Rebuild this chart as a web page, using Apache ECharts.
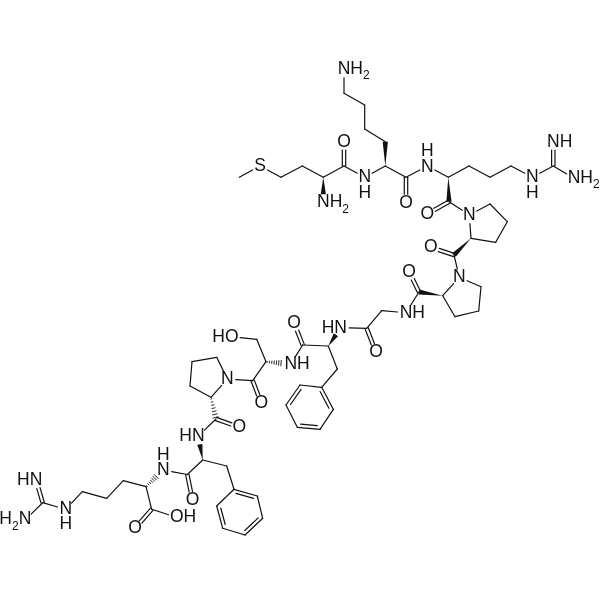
<!DOCTYPE html>
<html><head><meta charset="utf-8">
<style>html,body{margin:0;padding:0;background:#fff}#c{width:600px;height:600px}</style>
<script src="https://cdn.jsdelivr.net/npm/echarts@6/dist/echarts.min.js"></script>
</head><body><div id="c"></div>
<script>
// atoms: [x, y, hasLabel]
const atoms = [
[239.3,177.3,0],[260,166,1],[281,177.3,0],[302.3,166,0],[323.3,177.3,0],[344,166,0],[344,141.7,1],[323.3,202.7,1],
[364.7,177.3,1],[385.3,166,0],[385.3,141.7,0],[364.7,129,0],[364.7,105,0],[344,93.3,0],[344,69.3,1],[406,177.3,0],
[406,202.7,1],[427.3,166,1],[448.3,177.3,0],[469,166,0],[490,177.3,0],[511,166,0],[532.3,177.3,1],[553.3,166,0],
[553.3,141.7,1],[574,178.3,1],[449,201.7,0],[427.3,214,1],[469.3,215,1],[490,204,0],[507.3,221.7,0],[495.7,242.3,0],
[471,238.3,0],[454,255,0],[430.7,247.3,1],[459.3,277.3,1],[481,286.7,0],[478.7,311,0],[455,316.7,0],[442.7,295.7,0],
[419,292,0],[409,271.7,1],[406,312.7,1],[381.7,310.7,0],[366.7,328.3,0],[376,352.3,1],[340.7,327.7,1],[328.3,346,0],
[302.7,345,0],[294,322.7,1],[337.3,369,0],[321.7,387.3,0],[333.3,409.3,0],[320,429.3,0],[297.3,427.3,0],[286,405,0],
[300,385,0],[290.7,364,1],[266,361.7,0],[252.7,380.7,0],[261.3,403.3,1],[256.7,339.3,0],[231.7,336.7,1],[227.3,379,1],
[216.7,357.3,0],[192,361.7,0],[190,386,0],[211,397.3,0],[216,419,0],[239.3,427.3,1],[198.3,436,1],[202.7,460,0],
[187.3,474.5,0],[192.5,500,1],[226.7,466,0],[234,489.3,0],[257.3,496,0],[262.7,518.3,0],[245,535,0],[222.7,528.3,0],
[216.7,506,0],[163.3,470,1],[146,486.7,0],[151.7,509.3,0],[135,528.3,1],[176.7,517.3,1],[123.3,480.7,0],[106.7,498.3,0],
[82.3,491.7,0],[65.7,509.3,1],[42.7,502.7,0],[36,480,1],[25,520,1]
];
// bonds: [from, to, kind]  1 single, 2 double, 3 ring double, 4 wedge, 5 hash
const bonds = [
[0,1,1],[1,2,1],[2,3,1],[3,4,1],[4,5,1],[5,6,2],[4,7,4],[5,8,1],[8,9,1],[9,10,4],[10,11,1],[11,12,1],[12,13,1],[13,14,1],
[9,15,1],[15,16,2],[15,17,1],[17,18,1],[18,19,1],[19,20,1],[20,21,1],[21,22,1],[22,23,1],[23,24,2],[23,25,1],
[18,26,4],[26,27,2],[26,28,1],[28,29,1],[29,30,1],[30,31,1],[31,32,1],[32,28,1],[32,33,4],[33,34,2],[33,35,1],
[35,36,1],[36,37,1],[37,38,1],[38,39,1],[39,35,1],[39,40,4],[40,41,2],[40,42,1],[42,43,1],[43,44,1],[44,45,2],[44,46,1],
[47,46,4],[47,48,1],[48,49,2],[47,50,1],[50,51,1],[51,52,3],[52,53,1],[53,54,3],[54,55,1],[55,56,3],[56,51,1],
[48,57,1],[58,57,5],[58,59,1],[59,60,2],[58,61,1],[61,62,1],[59,63,1],[63,64,1],[64,65,1],[65,66,1],[66,67,1],[67,63,1],
[67,68,5],[68,69,2],[68,70,1],[71,70,4],[71,72,1],[72,73,2],[71,74,1],[74,75,1],[75,76,3],[76,77,1],[77,78,3],[78,79,1],[79,80,3],[80,75,1],
[72,81,1],[82,81,5],[82,83,1],[83,84,2],[83,85,1],[82,86,1],[86,87,1],[87,88,1],[88,89,1],[89,90,1],[90,91,2],[90,92,1]
];
// labels: [text, x, y, anchor]  0 centred, 1 first letter on atom, 2 last letter on atom
const labels = [
['S',260,166,0],['O',344,141.7,0],['NH2',323.3,202.7,1],['N\nH',364.7,185,0],['NH2',344,69.3,1],['O',406,202.7,0],
['H\nN',427.3,159,0],['N\nH',532.3,185,0],['NH',553.3,141.7,1],['NH2',574,178.3,1],['O',427.3,214,0],['N',469.3,215,0],
['O',430.7,247.3,0],['N',459.3,277.3,0],['O',409,271.7,0],['NH',406,312.7,1],['O',376,352.3,0],['HN',340.7,327.7,2],
['O',294,322.7,0],['NH',290.7,364,1],['O',261.3,403.3,0],['HO',231.7,336.7,2],['N',227.3,379,0],['O',239.3,427.3,0],
['HN',198.3,436,2],['O',192.5,500,0],['H\nN',163.3,462.5,0],['O',135,528.3,0],['OH',176.7,517.3,1],['N\nH',65.7,516.5,0],
['HN',36,480,2],['H2N',25,520,2]
];

const INK='#111', LW=1.2, TRIM=8.5, FONT='17.5px "Liberation Sans", Arial, sans-serif';
function renderBond(params, api){
  const a=atoms[api.value(0)], b=atoms[api.value(1)], kind=api.value(2);
  let p=api.coord([a[0],a[1]]), q=api.coord([b[0],b[1]]);
  let dx=q[0]-p[0], dy=q[1]-p[1], L=Math.hypot(dx,dy); dx/=L; dy/=L;
  if(a[2]) p=[p[0]+dx*TRIM,p[1]+dy*TRIM];
  if(b[2]) q=[q[0]-dx*TRIM,q[1]-dy*TRIM];
  const nx=dy, ny=-dx, kids=[];
  const line=(x1,y1,x2,y2,w)=>kids.push({type:'line',shape:{x1,y1,x2,y2},style:{stroke:INK,lineWidth:w||LW,lineCap:'round',fill:null}});
  if(kind===1) line(p[0],p[1],q[0],q[1]);
  else if(kind===2){ const o=1.7;
    line(p[0]+nx*o,p[1]+ny*o,q[0]+nx*o,q[1]+ny*o);
    line(p[0]-nx*o,p[1]-ny*o,q[0]-nx*o,q[1]-ny*o);
  } else if(kind===3){ const o=3.4,s=3;
    line(p[0],p[1],q[0],q[1]);
    line(p[0]-nx*o+dx*s,p[1]-ny*o+dy*s,q[0]-nx*o-dx*s,q[1]-ny*o-dy*s);
  } else if(kind===4){ const w=2.6;
    kids.push({type:'polygon',shape:{points:[p,[q[0]+nx*w,q[1]+ny*w],[q[0]-nx*w,q[1]-ny*w]]},style:{fill:INK}});
  } else { const n=7, len=Math.hypot(q[0]-p[0],q[1]-p[1]);
    for(let i=0;i<n;i++){ const t=(i+0.5)/n, w=0.3+t*2.6, x=p[0]+dx*len*t, y=p[1]+dy*len*t;
      line(x+nx*w,y+ny*w,x-nx*w,y-ny*w,0.9);
    }
  }
  return {type:'group',children:kids};
}
const rich={n:{fontSize:17.5,fontFamily:'Liberation Sans',fill:INK,lineHeight:22,verticalAlign:'top'},s:{fontSize:12,fontFamily:'Liberation Sans',fill:INK,lineHeight:22,verticalAlign:'bottom'}};
function richText(t){ return t.replace(/(\D*)2(\D*)/,(m,a,b)=>(a?`{n|${a}}`:'')+'{s|2}'+(b?`{n|${b}}`:'')); }
function renderLabel(params, api){
  const l=labels[params.dataIndex], c=api.coord([l[1],l[2]]);
  const half=ch=>(ch==='O'?6.8:ch==='S'?5.8:6.3);
  let x=c[0], align='center';
  if(l[3]===1){ x=c[0]-half(l[0][0]); align='left'; }
  if(l[3]===2){ x=c[0]+half(l[0][l[0].length-1]); align='right'; }
  const sub=l[0].indexOf('2')>=0;
  return {type:'text',style:{
    text: sub?richText(l[0]):l[0], rich: sub?rich:undefined, x, y:c[1]+(sub?1.5:0), align, verticalAlign:'middle',
    font:FONT, lineHeight:15.4, fill:INK }};
}
const chart=echarts.init(document.getElementById('c'),null,{renderer:'canvas'});
chart.setOption({
  animation:false, backgroundColor:'#fff',
  grid:{left:0,right:0,top:0,bottom:0},
  xAxis:{type:'value',min:0,max:600,show:false},
  yAxis:{type:'value',min:0,max:600,inverse:true,show:false},
  series:[
    {type:'custom',coordinateSystem:'cartesian2d',clip:false,silent:true,renderItem:renderBond,data:bonds,encode:{x:0,y:1}},
    {type:'custom',coordinateSystem:'cartesian2d',clip:false,silent:true,renderItem:renderLabel,data:labels.map(l=>[l[1],l[2]]),encode:{x:0,y:1}}
  ]
});
</script></body></html>
